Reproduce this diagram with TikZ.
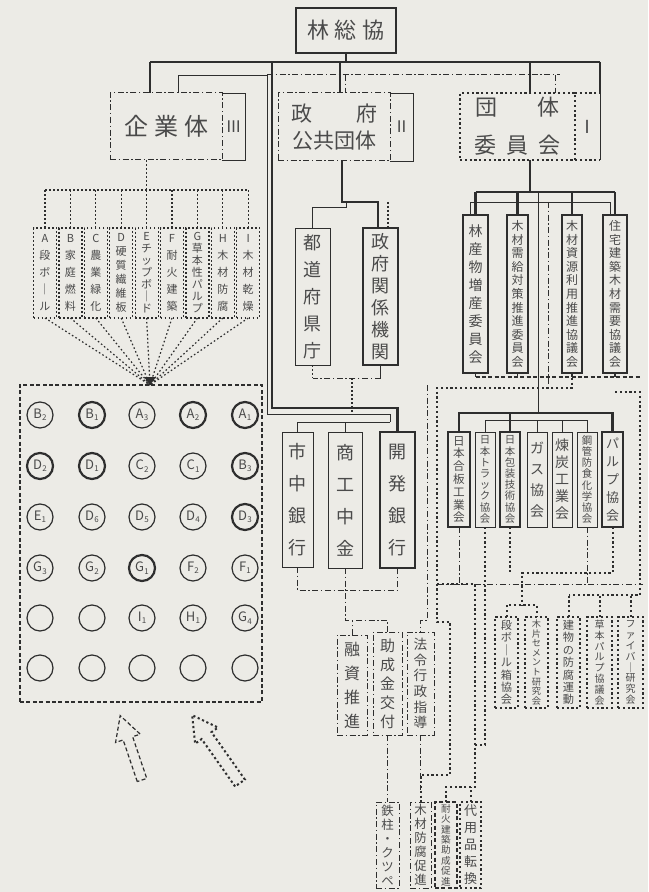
\documentclass[tikz,border=0pt]{standalone}
\usepackage{fontspec}
\setmainfont{Noto Sans CJK JP}
\newfontfamily\jp{Noto Sans CJK JP}
\usetikzlibrary{calc}
\definecolor{ink}{HTML}{2E2E2E}
\definecolor{txt}{HTML}{4A4A4A}
\definecolor{paper}{HTML}{ECEBE6}
\newcommand\bx[7]{\node[#2, minimum width={(#5-#3)*0.5pt}, minimum height={(#6-#4)*0.5pt}, inner sep=0pt, outer sep=0pt] (#1) at ({(#3+#5)/2},{(#4+#6)/2}) {#7};}
\newcommand\V[2]{\vbox{\baselineskip=#1\lineskiplimit=-50pt\lineskip=0pt\Vl#2\relax}}
\def\Vl#1{\ifx#1\relax\else\hbox to 0pt{\hss#1\hss}\expandafter\Vl\fi}
\newcommand\fz[1]{\jp\fontsize{#1}{#1}\selectfont}
\newcommand\cl[2]{#1\kern0.1pt\raisebox{-1.2pt}{\fz{4}#2}}
\begin{document}
\begin{tikzpicture}[x=0.5pt,y=-0.5pt, font=\jp,
 every node/.append style={text=txt},
 thk/.style={draw=ink, line width=1.1pt},
 mdk/.style={draw=ink, line width=0.8pt},
 thn/.style={draw=ink, line width=0.45pt},
 hvd/.style={draw=ink, line width=1pt, dash pattern=on 1.1pt off 1.3pt},
 ltd/.style={draw=ink, line width=0.6pt, dash pattern=on 0.8pt off 1.2pt},
 dd/.style={draw=ink, line width=0.5pt, dash pattern=on 3pt off 1.3pt on 0.7pt off 1.3pt},
 dsh/.style={draw=ink, line width=0.6pt, dash pattern=on 2pt off 1.2pt},
 circ/.style={circle, draw=ink, line width=0.6pt, minimum size=13pt, inner sep=0pt, font=\fz{6.5}},
 circk/.style={circ, line width=1.1pt}]
\fill[paper] (0,0) rectangle (648,892);
\useasboundingbox (0,0) rectangle (648,892);

% ---------- top level ----------
\bx{rin}{thk, font=\fz{11}}{296}{8}{396}{53}{林\hspace{2.7pt}総\hspace{2.7pt}協}
\bx{kig}{dd, font=\fz{12}}{110}{93}{222}{160}{企\hspace{3pt}業\hspace{3pt}体}
\bx{kig3}{font=\fz{8}}{222}{93}{245}{160}{Ⅲ}
\draw[thn] (kig3.north west) -- (kig3.north east) -- (kig3.south east) -- (kig3.south west);
\bx{sei}{dd, align=center, font={\jp\fontsize{10.5}{13.5}\selectfont}}{278}{93}{390}{161}{政\hspace{22pt}府\\公共団体}
\bx{sei2}{font=\fz{8}}{390}{93}{413}{161}{Ⅱ}
\draw[thn] (sei2.north west) -- (sei2.north east) -- (sei2.south east) -- (sei2.south west);
\bx{dan}{hvd, align=center, font={\jp\fontsize{11}{19}\selectfont}}{460}{93}{575}{160}{団\hspace{20pt}体\\委\hspace{5pt}員\hspace{5pt}会}
\bx{dan1}{font=\fz{9}}{575}{93}{600}{160}{Ⅰ}
\draw[hvd] (dan1.north west) -- (dan1.north east);
\draw[hvd] (dan1.south west) -- (dan1.south east);
\draw[thn] (dan1.north east) -- (dan1.south east);

\draw[thk] (rin.south) -- (rin.south |- 0,62);
\draw[thk] (150,62) -- (600,62);
\draw[thk] (150,62) -- (kig.north -| 150,0);
\draw[thk] (340,62) -- (sei.north -| 340,0);
\draw[thk] (530,62) -- (dan.north -| 530,0);
\draw[thk] (600,62) -- (dan1.north east);
\draw[thn] (kig.north -| 178,0) -- (178,75) -- (267,75);
\draw[dd] (267,75) -- (560,75);
\draw[dd] (345,75) -- (sei.north -| 345,0);
\draw[dd] (555,75) -- (dan.north -| 555,0);

% ---------- enterprises ----------
\bx{e1}{ltd, font=\fz{5.5}}{33.5}{228}{56.5}{318}{\V{8.5pt}{A段ボ｜ル}}
\bx{e2}{ltd, font=\fz{5.5}}{58.9}{228}{81.9}{318}{\V{8.5pt}{B家庭燃料}}
\bx{e3}{ltd, font=\fz{5.5}}{84.3}{228}{107.3}{318}{\V{8.5pt}{C農業緑化}}
\bx{e4}{ltd, font=\fz{5.5}}{109.7}{228}{132.7}{318}{\V{7pt}{D硬質繊維板}}
\bx{e5}{ltd, font=\fz{5.5}}{135.1}{228}{158.1}{318}{\V{6pt}{Eチップボ｜ド}}
\bx{e6}{ltd, font=\fz{5.5}}{160.5}{228}{183.5}{318}{\V{8.5pt}{F耐火建築}}
\bx{e7}{ltd, font=\fz{5.5}}{185.9}{228}{208.9}{318}{\V{6pt}{G草本性パルプ}}
\bx{e8}{ltd, font=\fz{5.5}}{211.3}{228}{234.3}{318}{\V{8.5pt}{H木材防腐}}
\bx{e9}{ltd, font=\fz{5.5}}{236.7}{228}{259.7}{318}{\V{8.5pt}{I木材乾燥}}
\draw[ltd] (e1.north |- 0,190) -- (e9.north |- 0,190);
\foreach \k in {1,...,9}{\draw[ltd] (e\k.north) -- (e\k.north |- 0,190);}
\draw[ltd] (kig.south -| e5.north) -- (e5.north |- 0,190);

\bx{grid}{dsh}{20}{385}{262}{702}{}
\coordinate (conv) at (grid.north -| 150,0);
\foreach \k in {1,...,9}{\draw[ltd] (e\k.south) -- (conv);}
\fill[ink] (144,377) -- (156,377) -- (conv) -- cycle;

% circles
\node[circ]  (cB2) at (40,415) {\cl{B}{2}};
\node[circk] (cB1) at (92,415) {\cl{B}{1}};
\node[circ]  (cA3) at (142,415) {\cl{A}{3}};
\node[circk] (cA2) at (193,415) {\cl{A}{2}};
\node[circk] (cA1) at (245,415) {\cl{A}{1}};
\node[circk] (cD2) at (40,466) {\cl{D}{2}};
\node[circk] (cD1) at (92,466) {\cl{D}{1}};
\node[circ]  (cC2) at (142,466) {\cl{C}{2}};
\node[circ]  (cC1) at (193,466) {\cl{C}{1}};
\node[circk] (cB3) at (245,466) {\cl{B}{3}};
\node[circ]  (cE1) at (40,517) {\cl{E}{1}};
\node[circ]  (cD6) at (92,517) {\cl{D}{6}};
\node[circ]  (cD5) at (142,517) {\cl{D}{5}};
\node[circ]  (cD4) at (193,517) {\cl{D}{4}};
\node[circk] (cD3) at (245,517) {\cl{D}{3}};
\node[circ]  (cG3) at (40,568) {\cl{G}{3}};
\node[circ]  (cG2) at (92,568) {\cl{G}{2}};
\node[circk] (cG1) at (142,568) {\cl{G}{1}};
\node[circ]  (cF2) at (193,568) {\cl{F}{2}};
\node[circ]  (cF1) at (245,568) {\cl{F}{1}};
\node[circ]  (c51) at (40,618) {};
\node[circ]  (c52) at (92,618) {};
\node[circ]  (cI1) at (142,618) {\cl{I}{1}};
\node[circ]  (cH1) at (193,618) {\cl{H}{1}};
\node[circ]  (cG4) at (245,618) {\cl{G}{4}};
\node[circ]  (c61) at (40,668) {};
\node[circ]  (c62) at (92,668) {};
\node[circ]  (c63) at (142,668) {};
\node[circ]  (c64) at (193,668) {};
\node[circ]  (c65) at (245,668) {};

% hollow arrows
\begin{scope}[shift={(142,780)}, rotate=108.7]
\draw[dsh] (0,-5) -- (44,-5) -- (44,-13) -- (68,0) -- (44,13) -- (44,5) -- (0,5) -- cycle;
\end{scope}
\begin{scope}[shift={(240,783)}, rotate=125.2]
\draw[hvd] (0,-6) -- (58,-6) -- (58,-14) -- (83,0) -- (58,14) -- (58,6) -- (0,6) -- cycle;
\end{scope}

% ---------- government ----------
\bx{todo}{thn, font=\fz{9}}{295}{228}{330}{365}{\V{13.5pt}{都道府県庁}}
\bx{seik}{thk, font=\fz{9}}{363}{228}{398}{365}{\V{11pt}{政府関係機関}}
\draw[thk] (sei.south -| 342,0) -- (342,202) -- (378,202) -- (seik.north -| 378,0);
\draw[thn] (346,202) -- (346,207) -- (todo.north |- 0,207) -- (todo.north);
\draw[ltd] (388,202) -- (seik.north -| 388,0);
\draw[thn] (seik.south) -- (seik.south |- 0,378);
\draw[dd] (seik.south |- 0,378) -- (todo.south |- 0,378);
\draw[ltd] (todo.south) -- (todo.south |- 0,378);
\draw[ltd] (352,378) -- (352,414);

\bx{shi}{thn, font=\fz{9}}{282}{432}{313}{567}{\V{16pt}{市中銀行}}
\bx{sho}{thn, font=\fz{9}}{328}{432}{362}{568}{\V{16pt}{商工中金}}
\bx{kai}{thk, font=\fz{9}}{380}{432}{415}{568}{\V{16pt}{開発銀行}}
\draw[thk] (272,62) -- (272,408) -- (kai.north |- 0,408) -- (kai.north);
\draw[thn] (267,75) -- (267,414) -- (390,414) -- (390,422);
\draw[thn] (shi.north |- 0,422) -- (390,422);
\draw[thn] (shi.north) -- (shi.north |- 0,422);
\draw[thn] (sho.north) -- (sho.north |- 0,422);

\bx{yuu}{dd, font=\fz{8}}{337}{635}{367}{735}{\V{12pt}{融資推進}}
\bx{jyo}{dd, font=\fz{7.5}}{373}{632}{402}{735}{\V{9.5pt}{助成金交付}}
\bx{hou}{dd, font=\fz{6.8}}{407}{632}{434}{735}{\V{7.8pt}{法令行政指導}}
\draw[dd] (shi.south) -- (shi.south |- 0,590) -- (kai.south |- 0,590) -- (kai.south);
\draw[dd] (sho.south) -- (sho.south |- 0,620) -- (jyo.north |- 0,620) -- (jyo.north);
\draw[dd] (yuu.north) -- (yuu.north |- 0,620);

\bx{tet}{dd, font=\fz{6.2}}{376}{802}{399}{888}{\V{7pt}{鉄柱・クツペ}}
\bx{mok}{dd, font=\fz{6.2}}{410}{802}{431}{888}{\V{7pt}{木材防腐促進}}
\bx{tai}{dsh, font=\fz{4.8}}{435}{802}{457}{888}{\V{5.2pt}{耐火建築助成促進}}
\bx{dai}{hvd, font=\fz{6.5}}{460}{802}{481}{888}{\V{8.5pt}{代用品転換}}
\draw[dd] (jyo.south) -- (tet.north);
\draw[dd] (hou.south) -- (hou.south |- 0,790) -- (mok.north |- 0,790);

% ---------- committees ----------
\bx{r1}{mdk, font=\fz{7}}{463}{215}{488}{373}{\V{9pt}{林産物増産委員会}}
\bx{r2}{mdk, font=\fz{6}}{507}{215}{528}{373}{\V{6.8pt}{木材需給対策推進委員会}}
\bx{r3}{mdk, font=\fz{6}}{562}{215}{582}{373}{\V{6.8pt}{木材資源利用推進協議会}}
\bx{r4}{mdk, font=\fz{6}}{603}{215}{627}{373}{\V{6.8pt}{住宅建築木材需要協議会}}
\draw[thk] (dan.south -| 530,0) -- (530,192);
\draw[thk] (r1.north |- 0,192) -- (r4.north |- 0,192);
\foreach \k in {1,...,4}{\draw[thk] (r\k.north) -- (r\k.north |- 0,192);}
\draw[thn] (470,215) -- (470,202) -- (610,202) -- (610,215);
\draw[thn] (538,192) -- (538,413);
\draw[dd] (548,202) -- (548,388);
\draw[dsh] (r1.south |- 0,377) -- (640,377);
\foreach \k in {1,...,4}{\draw[dsh] (r\k.south) -- (r\k.south |- 0,377);}

% lower cluster
\bx{l1}{thk, font=\fz{5.8}}{448}{432}{470}{527}{\V{6.4pt}{日本合板工業会}}
\bx{l2}{thn, font=\fz{5.2}}{475}{432}{495}{527}{\V{5.6pt}{日本トラック協会}}
\bx{l3}{thk, font=\fz{5.2}}{500}{432}{520}{527}{\V{5.6pt}{日本包装技術協会}}
\bx{l4}{thn, font=\fz{7}}{527}{432}{547}{527}{\V{10.5pt}{ガス協会}}
\bx{l5}{thn, font=\fz{7}}{552}{432}{572}{527}{\V{8.5pt}{煉炭工業会}}
\bx{l6}{thn, font=\fz{5.2}}{577}{432}{597}{527}{\V{5.6pt}{鋼管防食化学協会}}
\bx{l7}{thk, font=\fz{6.5}}{602}{432}{623}{527}{\V{9pt}{パルプ協会}}
\draw[thk] (l1.north) -- (l1.north |- 0,413) -- (l7.north |- 0,413) -- (l7.north);
\draw[thk] (l3.north) -- (l3.north |- 0,413);
\draw[thn] (l2.north |- 0,420) -- (l6.north |- 0,420);
\foreach \k in {2,4,5,6}{\draw[thn] (l\k.north) -- (l\k.north |- 0,420);}

\bx{c1}{hvd, font=\fz{5.6}}{495}{617}{518}{708}{\V{6.2pt}{段ボ｜ル箱協会}}
\bx{c2}{hvd, font=\fz{4.6}}{525}{617}{548}{708}{\V{4.8pt}{木片セメント研究会}}
\bx{c3}{hvd, font=\fz{5.6}}{557}{617}{580}{708}{\V{6.2pt}{建物の防腐運動}}
\bx{c4}{hvd, font=\fz{5}}{587}{617}{612}{708}{\V{5.4pt}{草本パルプ協議会}}
\bx{c5}{hvd, font=\fz{5}}{618}{617}{643}{708}{\V{5.4pt}{ファイバ｜研究会}}

\draw[dd] (437,584) -- (643,584);
\draw[dd] (l1.south) -- (l1.south |- 0,584);
\draw[dd] (l6.south) -- (l6.south |- 0,584);
\draw[hvd] (l7.south) -- (l7.south |- 0,573) -- (522,573) -- (522,605);
\draw[hvd] (c1.north) -- (c1.north |- 0,605) -- (c2.north |- 0,605) -- (c2.north);
\draw[hvd] (l3.south) -- (l3.south |- 0,573);
\draw[hvd] (r4.south |- 0,392) -- (640,392) -- (640,595) -- (c3.north |- 0,595);
\foreach \k in {3,4,5}{\draw[hvd] (c\k.north) -- (c\k.north |- 0,595);}
\draw[hvd] (l2.south) -- (l2.south |- 0,745) -- (475,745);

% long dotted routes to the bottom boxes
\draw[hvd] (r3.south) -- (r3.south |- 0,388) -- (437,388) -- (437,622) -- (450,622) -- (450,775) -- (mok.north |- 0,775) -- (mok.north);
\draw[dd] (427,385) -- (427,620) -- (hou.north |- 0,620) -- (hou.north);
\draw[hvd] (437,584) -- (475,584) -- (475,787) -- (tai.north |- 0,787) -- (tai.north);
\draw[hvd] (dai.north) -- (dai.north |- 0,787);
\end{tikzpicture}
\end{document}
